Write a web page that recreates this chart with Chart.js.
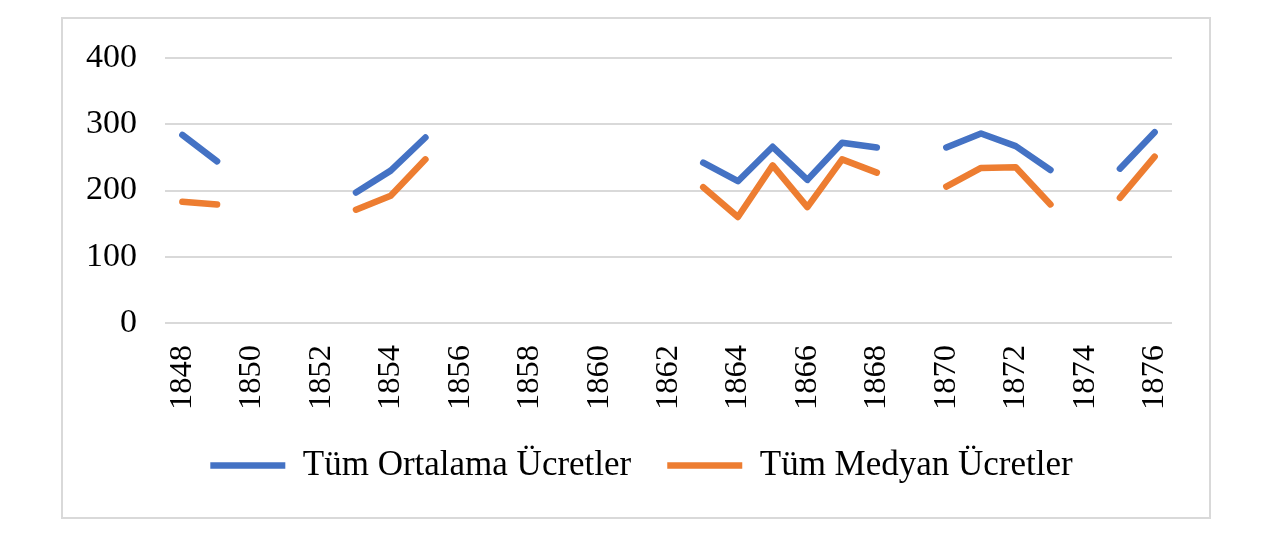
<!DOCTYPE html>
<html>
<head>
<meta charset="utf-8">
<script src="https://cdn.jsdelivr.net/npm/chart.js@4.4.1/dist/chart.umd.min.js"></script>
<style>
  html, body { margin: 0; padding: 0; background: #ffffff; }
  canvas { display: block; }
</style>
</head>
<body>
<canvas id="c" width="1280" height="540"></canvas>
<script>
const categories = ['1848','1849','1850','1851','1852','1853','1854','1855','1856','1857',
                    '1858','1859','1860','1861','1862','1863','1864','1865','1866','1867',
                    '1868','1869','1870','1871','1872','1873','1874','1875','1876'];
const ortalamaUcretler = [284, 244, null, null, null, 197, 230, 280, null, null,
                          null, null, null, null, null, 242, 214, 266, 216, 272,
                          265, null, 265, 286, 267, 231, null, 233, 288];
const medyanUcretler   = [183, 179, null, null, null, 171, 192, 247, null, null,
                          null, null, null, null, null, 205, 160, 238, 175, 247,
                          227, null, 206, 234, 235, 179, null, 189, 251];
const seriesNames = ['Tüm Ortalama Ücretler', 'Tüm Medyan Ücretler'];
const xTickLabels = ['1848','','1850','','1852','','1854','','1856','','1858','','1860','',
                     '1862','','1864','','1866','','1868','','1870','','1872','','1874','','1876'];
const yTicks = [0, 100, 200, 300, 400];

const FONT = '"Liberation Serif", "Times New Roman", serif';

const frame = {
  id: 'frame',
  beforeDraw(chart) {
    const ctx = chart.ctx;
    ctx.save();
    ctx.fillStyle = '#ffffff';
    ctx.fillRect(0, 0, chart.width, chart.height);
    ctx.strokeStyle = '#d9d9d9';
    ctx.lineWidth = 2;
    ctx.strokeRect(62, 18, 1148, 500);
    ctx.restore();
  }
};

new Chart(document.getElementById('c'), {
  type: 'line',
  data: {
    labels: categories,
    datasets: [
      {
        label: seriesNames[0],
        data: ortalamaUcretler,
        borderColor: '#4472c4',
        backgroundColor: '#4472c4',
        borderWidth: 6.5,
        borderCapStyle: 'round',
        borderJoinStyle: 'round',
        pointRadius: 0,
        pointHoverRadius: 0,
        tension: 0,
        spanGaps: false,
        fill: false
      },
      {
        label: seriesNames[1],
        data: medyanUcretler,
        borderColor: '#ed7d31',
        backgroundColor: '#ed7d31',
        borderWidth: 6.5,
        borderCapStyle: 'round',
        borderJoinStyle: 'round',
        pointRadius: 0,
        pointHoverRadius: 0,
        tension: 0,
        spanGaps: false,
        fill: false
      }
    ]
  },
  options: {
    responsive: false,
    devicePixelRatio: 1,
    animation: false,
    layout: { padding: { left: 62, right: 59, top: 58, bottom: 47 } },
    plugins: {
      tooltip: { enabled: false },
      legend: {
        position: 'bottom',
        labels: {
          usePointStyle: true,
          pointStyle: 'line',
          pointStyleWidth: 75,
          padding: 36,
          color: '#000000',
          font: { family: FONT, size: 35 }
        }
      }
    },
    scales: {
      x: {
        offset: true,
        grid: { display: false, drawTicks: false },
        border: { display: false },
        afterFit(scale) { scale.height = 89; },
        ticks: {
          autoSkip: false,
          minRotation: 90,
          maxRotation: 90,
          padding: 22,
          color: '#000000',
          font: { family: FONT, size: 32.5 },
          callback: (v, i) => xTickLabels[i]
        }
      },
      y: {
        min: 0,
        max: 400,
        afterFit(scale) { scale.width = 103; },
        afterBuildTicks(scale) { scale.ticks = yTicks.map(v => ({ value: v })); },
        grid: { color: '#d9d9d9', lineWidth: 2, drawTicks: false },
        border: { display: false },
        ticks: {
          padding: 28,
          color: '#000000',
          font: { family: FONT, size: 34 }
        }
      },
      yRight: {
        position: 'right',
        display: true,
        afterFit(scale) { scale.width = 49; },
        grid: { display: false, drawTicks: false },
        border: { display: false },
        ticks: { display: false }
      }
    }
  },
  plugins: [frame]
});
</script>
</body>
</html>
